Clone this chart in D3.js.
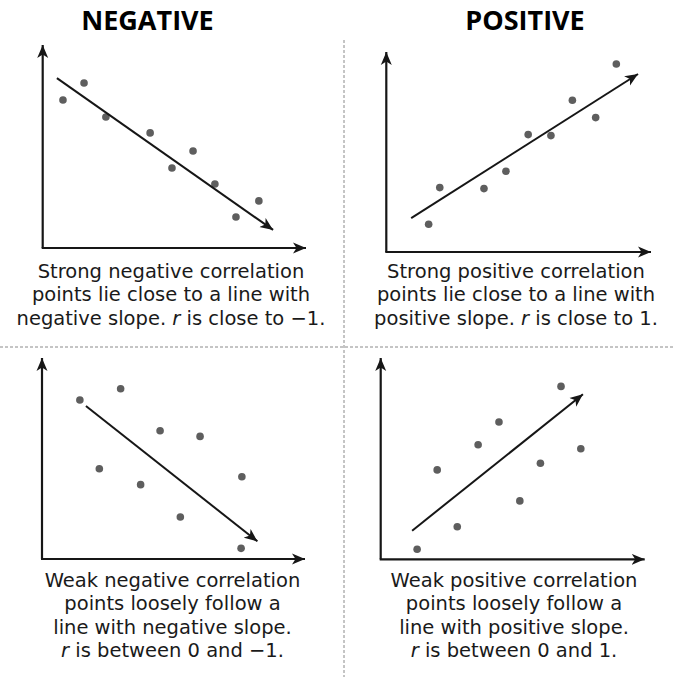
<!DOCTYPE html>
<html>
<head>
<meta charset="utf-8">
<script src="https://cdn.jsdelivr.net/npm/d3@7"></script>
<style>
  html, body { margin: 0; padding: 0; background: #fff; }
  svg { display: block; }
</style>
</head>
<body>
<svg id="chart" width="673" height="677"></svg>
<script>
// column headings
var headings = ["NEGATIVE", "POSITIVE"];

// points in data units (0..10 on each axis)
var strongNegX = [0.77, 1.57, 2.40, 4.08, 4.91, 5.71, 6.54, 7.34, 8.21];
var strongNegY = [7.29, 8.13, 6.45, 5.67, 3.94, 4.78, 3.15, 1.53, 2.32];
var strongPosX = [1.60, 2.02, 3.69, 4.52, 5.36, 6.22, 7.03, 7.91, 8.69];
var strongPosY = [1.39, 3.22, 3.17, 4.04, 5.87, 5.82, 7.59, 6.72, 9.40];
var weakNegX = [1.44, 2.99, 2.18, 4.49, 6.01, 3.75, 7.60, 5.26, 7.57];
var weakNegY = [7.91, 8.47, 4.49, 6.38, 6.10, 3.70, 4.09, 2.09, 0.53];
var weakPosX = [1.38, 2.14, 2.90, 3.69, 4.48, 5.27, 6.05, 6.83, 7.58];
var weakPosY = [0.50, 4.44, 1.62, 5.69, 6.82, 2.90, 4.77, 8.59, 5.49];

// trend arrows [x0, y0, x1, y1]
var strongNegLine = [0.54, 8.37, 8.75, 0.89];
var strongPosLine = [0.94, 1.69, 9.51, 8.90];
var weakNegLine = [1.67, 7.61, 8.19, 0.88];
var weakPosLine = [1.19, 1.42, 7.66, 8.20];

// captions ("|" marks the italic r)
var strongNegText = ["Strong negative correlation", "points lie close to a line with", "negative slope. |r| is close to \u22121."];
var strongPosText = ["Strong positive correlation", "points lie close to a line with", "positive slope. |r| is close to 1."];
var weakNegText = ["Weak negative correlation", "points loosely follow a", "line with negative slope.", "|r| is between 0 and \u22121."];
var weakPosText = ["Weak positive correlation", "points loosely follow a", "line with positive slope.", "|r| is between 0 and 1."];

var svg = d3.select("#chart");
var ink = "#161616";

var defs = svg.append("defs");
defs.append("marker")
    .attr("id", "head")
    .attr("viewBox", "-13 -6 14 12")
    .attr("markerUnits", "userSpaceOnUse")
    .attr("markerWidth", 14)
    .attr("markerHeight", 12)
    .attr("refX", 0)
    .attr("refY", 0)
    .attr("orient", "auto")
  .append("path")
    .attr("d", "M0,0 L-13,-5.5 L-9.5,0 L-13,5.5 Z")
    .attr("fill", ink);

// dashed dividers
svg.append("line")
    .attr("x1", 344).attr("x2", 344).attr("y1", 40).attr("y2", 677)
    .attr("stroke", "#8a8a8a").attr("stroke-width", 1).attr("stroke-dasharray", "3,2");
svg.append("line")
    .attr("x1", 0).attr("x2", 673).attr("y1", 347).attr("y2", 347)
    .attr("stroke", "#8a8a8a").attr("stroke-width", 1).attr("stroke-dasharray", "3,2");

// headings
svg.selectAll("text.heading")
    .data(headings)
    .enter().append("text")
    .attr("class", "heading")
    .attr("x", function(d, i) { return i == 0 ? 147.5 : 525; })
    .attr("y", 29.5)
    .attr("text-anchor", "middle")
    .attr("font-family", "'Open Sans', sans-serif")
    .attr("font-weight", "bold")
    .attr("font-size", 27)
    .attr("fill", "#000")
    .text(function(d) { return d; });

var panels = [
    { xs: strongNegX, ys: strongNegY, line: strongNegLine, text: strongNegText,
      ox: 42.7, oy: 248, tx: 306, ty: 45, cx: 171, ty0: 278 },
    { xs: strongPosX, ys: strongPosY, line: strongPosLine, text: strongPosText,
      ox: 386.3, oy: 252, tx: 651, ty: 52, cx: 516, ty0: 278 },
    { xs: weakNegX, ys: weakNegY, line: weakNegLine, text: weakNegText,
      ox: 42, oy: 559, tx: 305, ty: 358, cx: 172.5, ty0: 587 },
    { xs: weakPosX, ys: weakPosY, line: weakPosLine, text: weakPosText,
      ox: 380.7, oy: 559.3, tx: 644.7, ty: 358, cx: 514, ty0: 587 }
];

panels.forEach(function(p) {
    var x = d3.scaleLinear().domain([0, 10]).range([p.ox, p.tx]);
    var y = d3.scaleLinear().domain([0, 10]).range([p.oy, p.ty]);
    var g = svg.append("g");

    // axes with arrowheads
    g.append("line")
        .attr("x1", x(0)).attr("y1", y(0)).attr("x2", x(0)).attr("y2", y(10))
        .attr("stroke", ink).attr("stroke-width", 2.2).attr("marker-end", "url(#head)");
    g.append("line")
        .attr("x1", x(0) - 1).attr("y1", y(0)).attr("x2", x(10)).attr("y2", y(0))
        .attr("stroke", ink).attr("stroke-width", 2.2).attr("marker-end", "url(#head)");

    // dots
    g.selectAll("circle")
        .data(p.xs)
        .enter().append("circle")
        .attr("cx", function(d) { return x(d); })
        .attr("cy", function(d, i) { return y(p.ys[i]); })
        .attr("r", 3.8)
        .attr("fill", "#5e5e5e");

    // trend arrow
    g.append("line")
        .attr("x1", x(p.line[0])).attr("y1", y(p.line[1]))
        .attr("x2", x(p.line[2])).attr("y2", y(p.line[3]))
        .attr("stroke", ink).attr("stroke-width", 2).attr("marker-end", "url(#head)");

    // caption lines
    var t = g.selectAll("text")
        .data(p.text)
        .enter().append("text")
        .attr("x", p.cx)
        .attr("y", function(d, i) { return p.ty0 + i * 23.4; })
        .attr("text-anchor", "middle")
        .attr("font-family", "'DejaVu Sans', sans-serif")
        .attr("font-size", 19.5)
        .attr("fill", "#1a1a1a");
    t.each(function(d) {
        var el = d3.select(this);
        d.split("|").forEach(function(s, k) {
            el.append("tspan")
                .attr("font-style", k == 1 ? "italic" : null)
                .text(s);
        });
    });
});
</script>
</body>
</html>
